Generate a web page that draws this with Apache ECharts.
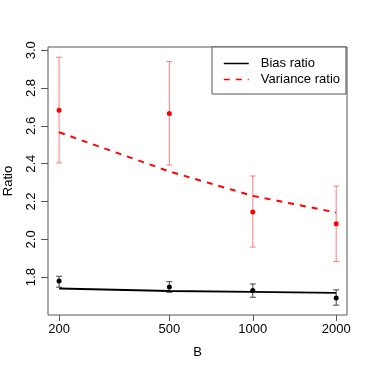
<!DOCTYPE html>
<html>
<head>
<meta charset="utf-8">
<script src="https://cdn.jsdelivr.net/npm/echarts@6/dist/echarts.min.js"></script>
<style>
  html, body { margin: 0; padding: 0; background: #fff; }
  #chart { width: 374px; height: 374px; }
</style>
</head>
<body>
<div id="chart"></div>
<script>
// values
const B = [200, 500, 1000, 2000]
const biasFit = [1.740, 1.727, 1.722, 1.717]
const biasPoint = [1.780, 1.748, 1.730, 1.690]
const biasLow = [1.747, 1.720, 1.694, 1.652]
const biasHigh = [1.805, 1.776, 1.764, 1.733]
const varFit = [2.566, 2.359, 2.230, 2.142]
const varPoint = [2.682, 2.666, 2.144, 2.082]
const varLow = [2.404, 2.393, 1.959, 1.883]
const varHigh = [2.963, 2.940, 2.335, 2.282]
const yTicks = [1.8, 2.0, 2.2, 2.4, 2.6, 2.8, 3.0]

const lg = (v) => Math.log10(v)
const font = 'Liberation Sans, Arial, sans-serif'

function pairs(ys) {
  return B.map((b, i) => [lg(b), ys[i]])
}
function bars(lo, hi) {
  return B.map((b, i) => [lg(b), lo[i], hi[i]])
}

function errorBar(color) {
  return function (params, api) {
    const x = api.value(0)
    const top = api.coord([x, api.value(2)])
    const bot = api.coord([x, api.value(1)])
    const w = 3
    const style = { stroke: color, lineWidth: 1 }
    return {
      type: 'group',
      children: [
        { type: 'line', shape: { x1: top[0], y1: top[1], x2: bot[0], y2: bot[1] }, style },
        { type: 'line', shape: { x1: top[0] - w, y1: top[1], x2: top[0] + w, y2: top[1] }, style },
        { type: 'line', shape: { x1: bot[0] - w, y1: bot[1], x2: bot[0] + w, y2: bot[1] }, style }
      ]
    }
  }
}

const chart = echarts.init(document.getElementById('chart'))

chart.setOption({
  animation: false,
  textStyle: { fontFamily: font },
  grid: {
    left: 48, right: 27, top: 47, bottom: 59,
    outerBoundsMode: 'none',
    containLabel: false,
    show: true, borderColor: '#555', borderWidth: 1
  },
  legend: {
    orient: 'vertical',
    left: 212,
    top: 47,
    padding: [10, 6, 8, 11],
    itemGap: 3,
    itemWidth: 25,
    itemHeight: 14,
    borderColor: '#555',
    borderWidth: 1,
    backgroundColor: '#fff',
    itemStyle: { opacity: 0 },
    lineStyle: { width: 1.5 },
    textStyle: { fontSize: 13, color: '#000', fontFamily: font, padding: [0, 0, 0, 7] },
    data: ['Bias ratio', 'Variance ratio']
  },
  xAxis: {
    type: 'value',
    min: lg(182.4),
    max: lg(2188),
    name: 'B',
    nameLocation: 'middle',
    nameGap: 31,
    nameTextStyle: { fontSize: 13, color: '#000' },
    splitLine: { show: false },
    axisLine: { show: false },
    axisTick: { show: true, inside: false, length: 6, lineStyle: { color: '#555' }, customValues: B.map(lg) },
    axisLabel: {
      fontSize: 13, color: '#000', margin: 8,
      customValues: B.map(lg),
      formatter: (v) => String(Math.round(Math.pow(10, v)))
    }
  },
  yAxis: {
    type: 'value',
    min: 1.6,
    max: 3.017,
    name: 'Ratio',
    nameLocation: 'middle',
    nameGap: 33,
    nameRotate: 90,
    nameTextStyle: { fontSize: 13, color: '#000' },
    splitLine: { show: false },
    axisLine: { show: false },
    axisTick: { show: true, length: 7, lineStyle: { color: '#555' }, customValues: yTicks },
    axisLabel: {
      fontSize: 13, color: '#000', rotate: 90, margin: 10,
      customValues: yTicks,
      formatter: (v) => v.toFixed(1)
    }
  },
  series: [
    {
      name: 'Bias ratio',
      type: 'line',
      data: pairs(biasFit),
      symbol: 'none',
      lineStyle: { color: '#000', width: 1.8 },
      itemStyle: { color: '#000' },
      z: 3
    },
    {
      name: 'Variance ratio',
      type: 'line',
      data: pairs(varFit),
      symbol: 'none',
      lineStyle: { color: '#ff0000', width: 2, type: [6, 6] },
      itemStyle: { color: '#ff0000' },
      z: 3
    },
    {
      type: 'custom',
      renderItem: errorBar('rgba(255,0,0,0.5)'),
      data: bars(varLow, varHigh),
      z: 2
    },
    {
      type: 'custom',
      renderItem: errorBar('#444'),
      data: bars(biasLow, biasHigh),
      z: 2
    },
    {
      type: 'scatter',
      data: pairs(varPoint),
      symbol: 'circle',
      symbolSize: 5,
      itemStyle: { color: '#ff0000', opacity: 1 },
      z: 4
    },
    {
      type: 'scatter',
      data: pairs(biasPoint),
      symbol: 'circle',
      symbolSize: 5,
      itemStyle: { color: '#000', opacity: 1 },
      z: 4
    }
  ]
})
</script>
</body>
</html>
